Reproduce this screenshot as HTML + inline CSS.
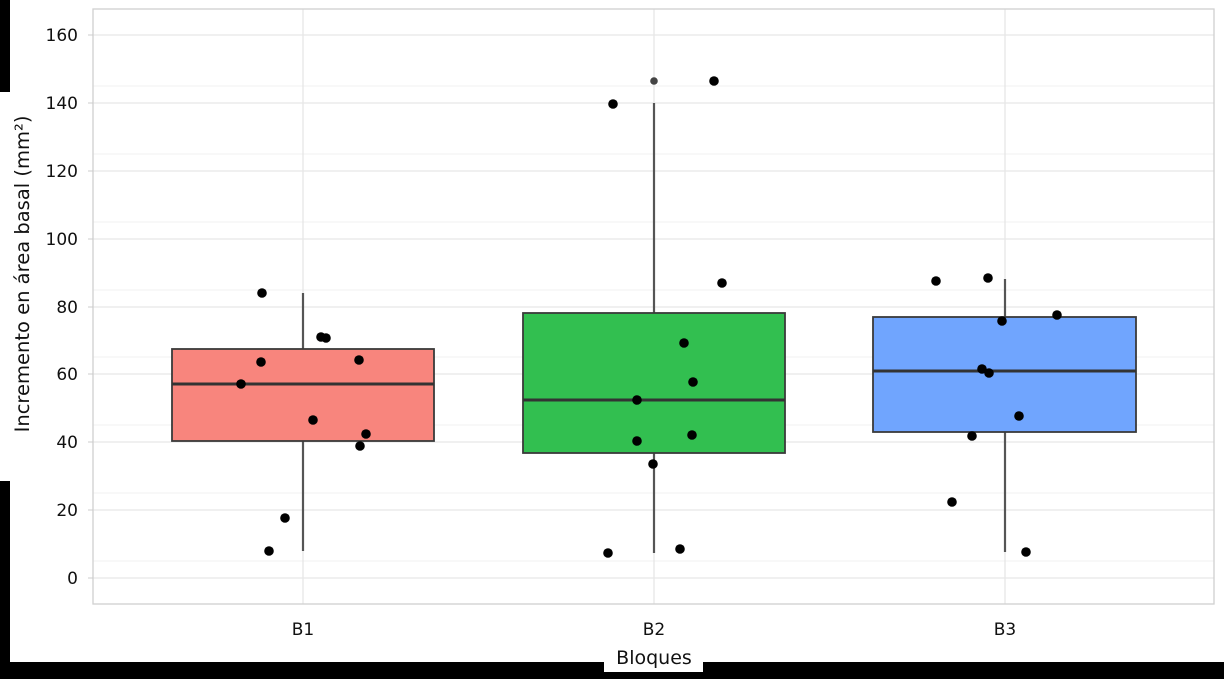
<!DOCTYPE html>
<html><head><style>
body{margin:0;background:#fff;}
svg{display:block;font-family:"DejaVu Sans","Liberation Sans",sans-serif;}
</style></head><body>
<svg width="1224" height="679" viewBox="0 0 1224 679">
<rect width="1224" height="679" fill="#fff"/>
<g stroke="#f0f0f0" stroke-width="1">
<line x1="93" x2="1214" y1="561" y2="561"/><line x1="93" x2="1214" y1="493" y2="493"/>
<line x1="93" x2="1214" y1="425" y2="425"/><line x1="93" x2="1214" y1="357" y2="357"/>
<line x1="93" x2="1214" y1="290" y2="290"/><line x1="93" x2="1214" y1="222" y2="222"/>
<line x1="93" x2="1214" y1="154" y2="154"/><line x1="93" x2="1214" y1="86" y2="86"/>
</g>
<g stroke="#e6e6e6" stroke-width="1.3">
<line x1="93" x2="1214" y1="578" y2="578"/><line x1="93" x2="1214" y1="510" y2="510"/>
<line x1="93" x2="1214" y1="442" y2="442"/><line x1="93" x2="1214" y1="374" y2="374"/>
<line x1="93" x2="1214" y1="307" y2="307"/><line x1="93" x2="1214" y1="239" y2="239"/>
<line x1="93" x2="1214" y1="171" y2="171"/><line x1="93" x2="1214" y1="103" y2="103"/>
<line x1="93" x2="1214" y1="35" y2="35"/>
<line x1="303" x2="303" y1="9" y2="604"/><line x1="654" x2="654" y1="9" y2="604"/><line x1="1005" x2="1005" y1="9" y2="604"/>
</g>
<rect x="93" y="9" width="1121" height="595" fill="none" stroke="#d0d0d0" stroke-width="1.3"/>
<g stroke="#ccc"><line x1="88" x2="93" y1="578" y2="578"/><line x1="88" x2="93" y1="510" y2="510"/><line x1="88" x2="93" y1="442" y2="442"/><line x1="88" x2="93" y1="374" y2="374"/><line x1="88" x2="93" y1="307" y2="307"/><line x1="88" x2="93" y1="239" y2="239"/><line x1="88" x2="93" y1="171" y2="171"/><line x1="88" x2="93" y1="103" y2="103"/><line x1="88" x2="93" y1="35" y2="35"/></g>
<g font-size="17" fill="#111" text-anchor="end">
<text x="78" y="584">0</text><text x="78" y="516">20</text><text x="78" y="448">40</text><text x="78" y="380">60</text><text x="78" y="313">80</text><text x="78" y="245">100</text><text x="78" y="177">120</text><text x="78" y="109">140</text><text x="78" y="41">160</text>
</g>
<g font-size="17" fill="#111" text-anchor="middle">
<text x="303" y="635">B1</text><text x="654" y="635">B2</text><text x="1005" y="635">B3</text>
</g>
<g stroke="#555" stroke-width="2.2">
<line x1="303" x2="303" y1="293" y2="551"/>
<line x1="654" x2="654" y1="103" y2="553"/>
<line x1="1005" x2="1005" y1="279" y2="552"/>
</g>
<rect x="172" y="349" width="262" height="92" fill="#f8857d" stroke="#3a3a3a" stroke-width="1.8"/>
<line x1="172" x2="434" y1="384" y2="384" stroke="#333" stroke-width="3"/>
<rect x="523" y="313" width="262" height="140" fill="#32bf50" stroke="#3a3a3a" stroke-width="1.8"/>
<line x1="523" x2="785" y1="400" y2="400" stroke="#333" stroke-width="3"/>
<rect x="873" y="317" width="263" height="115" fill="#70a5fe" stroke="#3a3a3a" stroke-width="1.8"/>
<line x1="873" x2="1136" y1="371" y2="371" stroke="#333" stroke-width="3"/>
<circle cx="654" cy="81" r="3.8" fill="#444"/>
<g fill="#000">
<circle cx="262" cy="293" r="4.8"/><circle cx="261" cy="362" r="4.8"/><circle cx="241" cy="384" r="4.8"/><circle cx="321" cy="337" r="4.8"/><circle cx="326" cy="338" r="4.8"/><circle cx="359" cy="360" r="4.8"/><circle cx="313" cy="420" r="4.8"/><circle cx="366" cy="434" r="4.8"/><circle cx="360" cy="446" r="4.8"/><circle cx="285" cy="518" r="4.8"/><circle cx="269" cy="551" r="4.8"/>
<circle cx="613" cy="104" r="4.8"/><circle cx="714" cy="81" r="4.8"/><circle cx="722" cy="283" r="4.8"/><circle cx="684" cy="343" r="4.8"/><circle cx="693" cy="382" r="4.8"/><circle cx="637" cy="400" r="4.8"/><circle cx="637" cy="441" r="4.8"/><circle cx="692" cy="435" r="4.8"/><circle cx="653" cy="464" r="4.8"/><circle cx="608" cy="553" r="4.8"/><circle cx="680" cy="549" r="4.8"/>
<circle cx="936" cy="281" r="4.8"/><circle cx="988" cy="278" r="4.8"/><circle cx="1002" cy="321" r="4.8"/><circle cx="1057" cy="315" r="4.8"/><circle cx="982" cy="369" r="4.8"/><circle cx="989" cy="373" r="4.8"/><circle cx="1019" cy="416" r="4.8"/><circle cx="972" cy="436" r="4.8"/><circle cx="952" cy="502" r="4.8"/><circle cx="1026" cy="552" r="4.8"/>
</g>
<text transform="translate(29,274) rotate(-90)" font-size="19.5" fill="#111" text-anchor="middle">Incremento en área basal (mm²)</text>
<rect x="0" y="0" width="10" height="92" fill="#000"/>
<rect x="0" y="481" width="10" height="198" fill="#000"/>
<rect x="0" y="662" width="1224" height="17" fill="#000"/>
<rect x="604" y="640" width="99" height="32" fill="#fff"/>
<text x="654" y="664" font-size="19" fill="#111" text-anchor="middle">Bloques</text>
</svg>
</body></html>
